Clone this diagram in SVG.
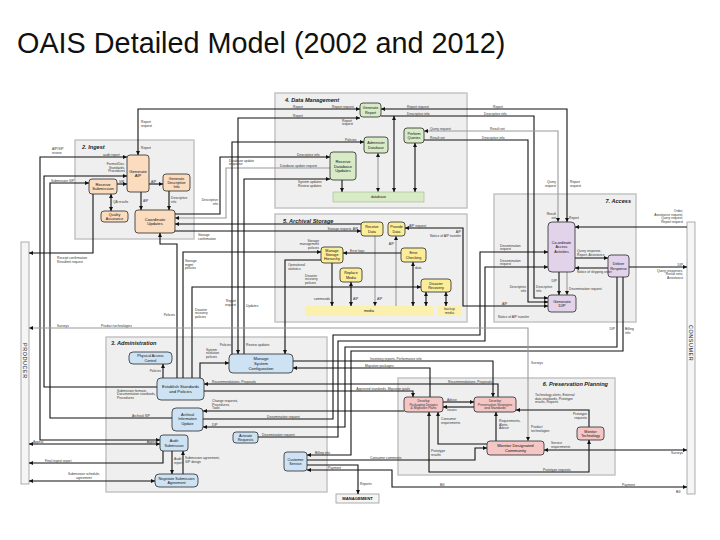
<svg xmlns="http://www.w3.org/2000/svg" width="720" height="540" viewBox="0 0 720 540">
<style>
.box{fill:#efefef;stroke:#c4c4c4;stroke-width:1.5}
.n{stroke:#2a2a2a;stroke-width:0.8}
.ing{fill:#fbdcbf}.dm{fill:#d8ebc6}.as{fill:#fcee98}.ac{fill:#e2d2ea}.ad{fill:#cde2f3}.pp{fill:#f5c6c6}
.bar{fill:#fbf0ad;stroke:none}
.ext{fill:#f5f5f5;stroke:#9a9a9a;stroke-width:0.8}
.c{fill:none;stroke:#111;stroke-width:1.1}
.g{fill:none;stroke:#9a9a9a;stroke-width:1.1}
text{font-family:"Liberation Sans",Arial,sans-serif}
.t{font-size:4.2px;text-anchor:middle;fill:#111}
.ts{font-size:3.7px;text-anchor:middle;fill:#111}
.s{font-size:3.3px;fill:#333}
.e{text-anchor:end}
.h{font-size:5.6px;font-weight:bold;font-style:italic;fill:#222}
.x{font-size:5.4px;fill:#222;letter-spacing:0.6px}
</style>
<defs>
<marker id="a" viewBox="0 0 8 8" refX="8" refY="4" markerWidth="4" markerHeight="4" markerUnits="userSpaceOnUse" orient="auto-start-reverse"><path d="M0,0L8,4L0,8z" fill="#111"/></marker>
</defs>
<rect width="720" height="540" fill="#fff"/>
<text x="17" y="53" font-size="28.8" fill="#111">OAIS Detailed Model (2002 and 2012)</text>

<g id="panels">
<rect class="box" x="75" y="140" width="119" height="99"/>
<rect class="box" x="275" y="93" width="192" height="115"/>
<rect class="box" x="275" y="214" width="192" height="108"/>
<rect class="box" x="494" y="194" width="142" height="128"/>
<rect class="box" x="106" y="337" width="221" height="155"/>
<rect class="box" x="398" y="378" width="217" height="97"/>
<text class="h" x="82" y="149">2. Ingest</text>
<text class="h" x="285" y="102">4. Data Management</text>
<text class="h" x="283" y="223">5. Archival Storage</text>
<text class="h e" x="631" y="203">7. Access</text>
<text class="h" x="111" y="345">3. Administration</text>
<text class="h e" x="608" y="386">6. Preservation Planning</text>
</g>

<g id="producer"><rect class="ext" x="21" y="242" width="8" height="242"/><text class="x" transform="translate(23,343) rotate(90)">PRODUCER</text></g>
<g id="consumer"><rect class="ext" x="687" y="222" width="8" height="272"/><text class="x" transform="translate(689,325) rotate(90)">CONSUMER</text></g>
<g id="management"><rect class="ext" x="336" y="494" width="43" height="9"/><text class="t" x="357.5" y="500.3" font-weight="bold">MANAGEMENT</text></g>

<g id="connectors" marker-end="url(#a)">
<polyline class="c" points="117,184 127,184"/>
<polyline class="c" points="149,184 163,184"/>
<polyline class="c" points="111,194 111,211" marker-start="url(#a)"/>
<polyline class="c" points="141,192 141,210"/>
<polyline class="c" points="169,191 169,210"/>
<polyline class="c" points="93,194 93,253 29,253"/>
<polyline class="c" points="172,418 50,418 50,183 89,183"/>
<polyline class="c" points="160,440 40,440 40,157 127,157" marker-start="url(#a)"/>
<polyline class="c" points="157,387 44,387 44,176 127,176"/>
<polyline class="c" points="138,155 138,109 360,109" marker-start="url(#a)"/>
<polyline class="c" points="175,214 220,214 220,157 330,157"/>
<polyline class="g" points="330,168 226,168 226,218 175,218"/>
<polyline class="c" points="361,224 175,224"/>
<polyline class="c" points="175,231 361,231"/>
<polyline class="c" points="177,378 177,244 160,244 160,233"/>
<polyline class="c" points="238,354 238,118 360,118" marker-start="url(#a)"/>
<polyline class="c" points="232,354 232,142 364,142"/>
<polyline class="c" points="244,354 244,179 330,179"/>
<polyline class="g" points="378,153 378,192" marker-start="url(#a)"/>
<polyline class="c" points="342,180 342,192"/>
<polyline class="c" points="415,143 415,192" marker-start="url(#a)"/>
<polyline class="c" points="394,116 394,192" marker-start="url(#a)"/>
<polyline class="c" points="381,109 567,109 567,222" marker-start="url(#a)"/>
<polyline class="c" points="381,116 534,116 534,298 548,298"/>
<polyline class="g" points="424,131 558,131 558,222" marker-start="url(#a)"/>
<polyline class="c" points="424,140 528,140 528,302 548,302"/>
<polyline class="g" points="375,236 375,306"/>
<polyline class="g" points="396,306 396,236"/>
<polyline class="c" points="401,253 343,253"/>
<polyline class="c" points="332,263 332,306"/>
<polyline class="c" points="351,282 351,306" marker-start="url(#a)"/>
<polyline class="c" points="413,262 413,306" marker-start="url(#a)"/>
<polyline class="c" points="426,292 426,306" marker-start="url(#a)"/>
<polyline class="c" points="446,292 446,306" marker-start="url(#a)"/>
<polyline class="c" points="321,260 285,260 285,354"/>
<polyline class="c" points="183,378 183,252 321,252"/>
<polyline class="c" points="192,378 192,287 421,287"/>
<polyline class="c" points="405,228 463,228 463,306 548,306" marker-start="url(#a)"/>
<polyline class="c" points="687,227 575,227"/>
<polyline class="c" points="575,258 608,258"/>
<polyline class="c" points="608,268 575,268"/>
<polyline class="c" points="629,267 687,267"/>
<polyline class="c" points="559,272 559,295"/>
<polyline class="g" points="567,272 567,295"/>
<polyline class="c" points="203,419 333,419 333,335 480,335 480,252 548,252"/>
<polyline class="c" points="258,437 338,437 338,341 485,341 485,267 548,267"/>
<polyline class="c" points="617,277 617,347 345,347 345,427 203,427"/>
<polyline class="c" points="623,277 623,351 351,351 351,455 307,455"/>
<polyline class="c" points="163,378 163,364"/>
<polyline class="c" points="200,378 200,363 229,363"/>
<polyline class="c" points="498,397 498,384 204,384"/>
<polyline class="c" points="204,391 413,391 413,397"/>
<polyline class="c" points="404,411 203,411"/>
<polyline class="c" points="160,444 29,444" marker-start="url(#a)"/>
<polyline class="c" points="163,451 163,463 29,463"/>
<polyline class="c" points="155,481 29,481" marker-start="url(#a)"/>
<polyline class="c" points="172,451 172,474"/>
<polyline class="c" points="183,474 183,451"/>
<polyline class="c" points="293,361 493,361 493,397"/>
<polyline class="c" points="430,397 430,368 293,368"/>
<polyline class="c" points="307,460 475,460 475,448 487,448"/>
<polyline class="c" points="307,465 358,465 358,494"/>
<polyline class="c" points="307,470 392,470 392,487 687,487" marker-start="url(#a)"/>
<polyline class="g" points="29,328 528,328 528,441" marker-start="url(#a)"/>
<polyline class="c" points="443,402 474,402"/>
<polyline class="c" points="474,407 443,407"/>
<polyline class="c" points="589,427 589,410 516,410"/>
<polyline class="c" points="496,441 496,412"/>
<polyline class="c" points="487,444 438,444 438,412"/>
<polyline class="c" points="589,440 589,472 429,472 429,412" marker-start="url(#a)"/>
<polyline class="c" points="544,450 687,450" marker-start="url(#a)"/>
</g>

<g id="ingest-nodes">
<g id="receive-submission"><rect class="n ing" x="89" y="179" width="28" height="15" rx="3"/><text class="t" x="103" y="185.7">Receive<tspan x="103" y="190.3">Submission</tspan></text></g>
<g id="generate-aip"><rect class="n ing" x="127" y="155" width="22" height="37" rx="3"/><text class="t" x="138" y="172.7">Generate<tspan x="138" y="177.3">AIP</tspan></text></g>
<g id="generate-descriptive-info"><rect class="n ing" x="163" y="174" width="27" height="17" rx="3"/><text class="ts" x="176.5" y="179.6">Generate<tspan x="176.5" y="183.8">Descriptive</tspan><tspan x="176.5" y="188">Info</tspan></text></g>
<g id="quality-assurance"><rect class="n ing" x="101" y="211" width="27" height="11" rx="3"/><text class="ts" x="114.5" y="215.8">Quality<tspan x="114.5" y="220">Assurance</tspan></text></g>
<g id="coordinate-updates"><rect class="n ing" x="135" y="210" width="40" height="23" rx="3"/><text class="t" x="155" y="220.7">Coordinate<tspan x="155" y="225.3">Updates</tspan></text></g>
</g>

<g id="dm-nodes">
<g id="generate-report"><rect class="n dm" x="360" y="103" width="21" height="14" rx="3"/><text class="ts" x="370.5" y="109.3">Generate<tspan x="370.5" y="113.5">Report</tspan></text></g>
<g id="perform-queries"><rect class="n dm" x="404" y="128" width="20" height="15" rx="3"/><text class="ts" x="414" y="134.8">Perform<tspan x="414" y="139">Queries</tspan></text></g>
<g id="administer-database"><rect class="n dm" x="364" y="137" width="24" height="16" rx="3"/><text class="ts" x="376" y="144.3">Administer<tspan x="376" y="148.5">Database</tspan></text></g>
<g id="receive-database-updates"><rect class="n dm" x="330" y="152" width="26" height="28" rx="3"/><text class="t" x="343" y="162.9">Receive<tspan x="343" y="167.5">Database</tspan><tspan x="343" y="172.1">Updates</tspan></text></g>
<g id="database"><rect class="dm" x="333" y="192" width="91" height="10" stroke="#8fb07a" stroke-width="0.5"/><text class="ts" x="378.5" y="198.4">database</text></g>
</g>

<g id="as-nodes">
<g id="receive-data"><rect class="n as" x="361" y="222" width="22" height="14" rx="3"/><text class="ts" x="372" y="228.3">Receive<tspan x="372" y="232.5">Data</tspan></text></g>
<g id="provide-data"><rect class="n as" x="388" y="222" width="17" height="14" rx="3"/><text class="ts" x="396.5" y="228.3">Provide<tspan x="396.5" y="232.5">Data</tspan></text></g>
<g id="manage-storage-hierarchy"><rect class="n as" x="321" y="247" width="22" height="16" rx="3"/><text class="ts" x="332" y="251.6">Manage<tspan x="332" y="255.8">Storage</tspan><tspan x="332" y="260">Hierarchy</tspan></text></g>
<g id="error-checking"><rect class="n as" x="401" y="248" width="25" height="14" rx="3"/><text class="ts" x="413.5" y="254.3">Error<tspan x="413.5" y="258.5">Checking</tspan></text></g>
<g id="replace-media"><rect class="n as" x="340" y="268" width="22" height="14" rx="3"/><text class="ts" x="351" y="274.3">Replace<tspan x="351" y="278.5">Media</tspan></text></g>
<g id="disaster-recovery"><rect class="n as" x="421" y="279" width="30" height="13" rx="3"/><text class="ts" x="436" y="284.8">Disaster<tspan x="436" y="289">Recovery</tspan></text></g>
<g id="media"><rect class="bar" x="305" y="306" width="128" height="10"/><text class="ts" x="369" y="312.4">media</text></g>
<g id="backup-media"><rect class="bar" x="438" y="306" width="23" height="10"/><text class="s" x="449.5" y="310.3" text-anchor="middle">backup<tspan x="449.5" y="314">media</tspan></text></g>
</g>

<g id="access-nodes">
<g id="coordinate-access-activities"><rect class="n ac" x="548" y="222" width="27" height="50" rx="4"/><text class="ts" x="561.5" y="244">Co-ordinate<tspan x="561.5" y="248.4">Access</tspan><tspan x="561.5" y="252.8">Activities</tspan></text></g>
<g id="deliver-response"><rect class="n ac" x="608" y="255" width="21" height="22" rx="3"/><text class="ts" x="618.5" y="265.3">Deliver<tspan x="618.5" y="269.7">Response</tspan></text></g>
<g id="generate-dip"><rect class="n ac" x="548" y="295" width="28" height="17" rx="3"/><text class="t" x="562" y="302.7">Generate<tspan x="562" y="307.3">DIP</tspan></text></g>
</g>

<g id="admin-nodes">
<g id="physical-access-control"><rect class="n ad" x="129" y="352" width="43" height="12" rx="4"/><text class="ts" x="150.5" y="357.3">Physical Access<tspan x="150.5" y="361.6">Control</tspan></text></g>
<g id="manage-system-configuration"><rect class="n ad" x="229" y="354" width="64" height="19" rx="4"/><text class="t" x="261" y="360.4">Manage<tspan x="261" y="365">System</tspan><tspan x="261" y="369.6">Configuration</tspan></text></g>
<g id="establish-standards"><rect class="n ad" x="157" y="378" width="47" height="22" rx="4"/><text class="t" x="180.5" y="388.2">Establish Standards<tspan x="180.5" y="392.8">and Policies</tspan></text></g>
<g id="archival-information-update"><rect class="n ad" x="172" y="408" width="31" height="23" rx="4"/><text class="ts" x="187.5" y="416">Archival<tspan x="187.5" y="420.4">Information</tspan><tspan x="187.5" y="424.8">Update</tspan></text></g>
<g id="activate-requests"><rect class="n ad" x="233" y="432" width="25" height="11" rx="3"/><text class="ts" x="245.5" y="436.8">Activate<tspan x="245.5" y="441">Requests</tspan></text></g>
<g id="audit-submission"><rect class="n ad" x="160" y="435" width="28" height="16" rx="3"/><text class="ts" x="174" y="442.3">Audit<tspan x="174" y="446.6">Submission</tspan></text></g>
<g id="negotiate-submission-agreement"><rect class="n ad" x="155" y="474" width="43" height="13" rx="4"/><text class="ts" x="176.5" y="479.8">Negotiate Submission<tspan x="176.5" y="484.1">Agreement</tspan></text></g>
<g id="customer-service"><rect class="n ad" x="284" y="452" width="23" height="19" rx="3"/><text class="ts" x="295.5" y="460.8">Customer<tspan x="295.5" y="465.1">Service</tspan></text></g>
</g>

<g id="pp-nodes">
<g id="develop-packaging"><rect class="n pp" x="404" y="397" width="39" height="15" rx="3"/><text class="s" x="423.5" y="401.6" text-anchor="middle">Develop<tspan x="423.5" y="405.5">Packaging Designs</tspan><tspan x="423.5" y="409.4">&amp; Migration Plans</tspan></text></g>
<g id="develop-preservation"><rect class="n pp" x="474" y="397" width="42" height="15" rx="3"/><text class="s" x="495" y="401.6" text-anchor="middle">Develop<tspan x="495" y="405.5">Preservation Strategies</tspan><tspan x="495" y="409.4">and Standards</tspan></text></g>
<g id="monitor-designated-community"><rect class="n pp" x="487" y="441" width="57" height="14" rx="3"/><text class="t" x="515.5" y="447.2">Monitor Designated<tspan x="515.5" y="451.8">Community</tspan></text></g>
<g id="monitor-technology"><rect class="n pp" x="577" y="427" width="27" height="13" rx="3"/><text class="ts" x="590.5" y="432.8">Monitor<tspan x="590.5" y="437.1">Technology</tspan></text></g>
</g>

<g id="labels">
<text class="s" x="119" y="182.5">SIP</text>
<text class="s" x="151" y="182.5">AIP</text>
<text class="s" x="113" y="203">QA results</text>
<text class="s" x="143" y="202">AIP</text>
<text class="s" x="171" y="199">Descriptive<tspan x="171" y="202.5">info</tspan></text>
<text class="s" x="57" y="258.5">Receipt confirmation<tspan x="57" y="262.5">Resubmit request</tspan></text>
<text class="s" x="51" y="181.5">Submission SIP</text>
<text class="s" x="132" y="416.5">Archival SIP</text>
<text class="s" x="103" y="155.5">audit report</text>
<text class="s" x="52" y="150">AIP/SIP<tspan x="52" y="154">review</tspan></text>
<text class="s e" x="125" y="165">Format/Doc.<tspan x="125" y="168.5">Standards,</tspan><tspan x="125" y="172">Procedures</tspan></text>
<text class="s" x="117" y="391.5">Submission formats,<tspan x="117" y="395">Documentation standards,</tspan><tspan x="117" y="398.5">Procedures</tspan></text>
<text class="s" x="141" y="123">Report<tspan x="141" y="126.5">request</tspan></text>
<text class="s" x="141" y="149">Report</text>
<text class="s" x="293" y="107.5">Report</text>
<text class="s" x="332" y="107.5">Report request</text>
<text class="s" x="293" y="116.5">Report</text>
<text class="s" x="342" y="121.5">Report<tspan x="342" y="125">request</tspan></text>
<text class="s" x="345" y="140.5">Policies</text>
<text class="s" x="297" y="155.5">Descriptive info</text>
<text class="s" x="229" y="161.5">Database update<tspan x="229" y="165">response</tspan></text>
<text class="s" x="280" y="166.5">Database update request</text>
<text class="s" x="298" y="183">System updates<tspan x="298" y="186.5">Review updates</tspan></text>
<text class="s e" x="218" y="201">Descriptive<tspan x="218" y="204.5">info</tspan></text>
<text class="s" x="198" y="236">Storage<tspan x="198" y="239.5">confirmation</tspan></text>
<text class="s e" x="358" y="229.5">Storage request, AIP</text>
<text class="s e" x="175" y="316">Policies</text>
<text class="s" x="185" y="262">Storage<tspan x="185" y="265.5">mgmt</tspan><tspan x="185" y="269">policies</tspan></text>
<text class="s e" x="319" y="241.5">Storage<tspan x="319" y="245">management</tspan><tspan x="319" y="248.5">policies</tspan></text>
<text class="s" x="195" y="310.5">Disaster<tspan x="195" y="314">recovery</tspan><tspan x="195" y="317.5">policies</tspan></text>
<text class="s" x="305" y="276.5">Disaster<tspan x="305" y="280">recovery</tspan><tspan x="305" y="283.5">policies</tspan></text>
<text class="s" x="288" y="266">Operational<tspan x="288" y="269.5">statistics</tspan></text>
<text class="s" x="350" y="251.5">Error logs</text>
<text class="s e" x="330" y="300">commands</text>
<text class="s" x="353" y="300">AIP</text>
<text class="s" x="377" y="300">AIP</text>
<text class="s e" x="394" y="245">AIP</text>
<text class="s" x="415" y="269">data</text>
<text class="s" x="409" y="226.5">AIP request</text>
<text class="s e" x="461" y="233">AIP</text>
<text class="s e" x="461" y="236.5">Notice of AIP transfer</text>
<text class="s" x="498" y="317.5">Notice of AIP transfer</text>
<text class="s" x="502" y="304.5">AIP</text>
<text class="s" x="570" y="183">Report<tspan x="570" y="186.5">request</tspan></text>
<text class="s e" x="556" y="183">Query<tspan x="556" y="186.5">request</tspan></text>
<text class="s" x="569" y="218.5">Report</text>
<text class="s e" x="556" y="215">Result<tspan x="556" y="218.5">set</tspan></text>
<text class="s e" x="683" y="212">Order,<tspan x="683" y="215.5">Assistance request,</tspan><tspan x="683" y="219">Query request,</tspan><tspan x="683" y="222.5">Report request</tspan></text>
<text class="s" x="577" y="252">Query response,<tspan x="577" y="255.7">Report, Assistance</tspan></text>
<text class="s" x="577" y="272.5">Notice of shipping order</text>
<text class="s e" x="683" y="265.5">DIP</text>
<text class="s e" x="683" y="271.5">Query responses,<tspan x="683" y="275">Result sets,</tspan><tspan x="683" y="278.5">Assistance</tspan></text>
<text class="s e" x="557" y="282">DIP</text>
<text class="s" x="569" y="290">Dissemination request</text>
<text class="s e" x="526" y="288">Descriptive<tspan x="526" y="291.5">info</tspan></text>
<text class="s" x="536" y="288">Descriptive<tspan x="536" y="291.5">info</tspan></text>
<text class="s" x="500" y="246.5">Dissemination<tspan x="500" y="250">request</tspan></text>
<text class="s" x="500" y="261.5">Dissemination<tspan x="500" y="265">request</tspan></text>
<text class="s" x="407" y="107.5">Report request</text>
<text class="s" x="407" y="114.5">Descriptive info</text>
<text class="s" x="493" y="107.5">Report</text>
<text class="s" x="484" y="114.5">Descriptive info</text>
<text class="s" x="430" y="129.5">Query request</text>
<text class="s" x="490" y="129.5">Result set</text>
<text class="s" x="430" y="138.5">Result set</text>
<text class="s" x="482" y="138.5">Descriptive info</text>
<text class="s" x="267" y="417.5">Dissemination request</text>
<text class="s" x="262" y="435.5">Dissemination request</text>
<text class="s e" x="615" y="330">DIP</text>
<text class="s" x="625" y="330">Billing<tspan x="625" y="333.5">info</tspan></text>
<text class="s e" x="161" y="372">Policies</text>
<text class="s" x="206" y="350.5">System<tspan x="206" y="354">evolution</tspan><tspan x="206" y="357.5">policies</tspan></text>
<text class="s e" x="236" y="302">Report<tspan x="236" y="305.5">request</tspan></text>
<text class="s" x="246" y="307">Updates</text>
<text class="s e" x="231" y="346">Policies</text>
<text class="s" x="246" y="346">Review updates</text>
<text class="s" x="212" y="382.5">Recommendations, Proposals</text>
<text class="s" x="448" y="382.5">Recommendations, Proposals</text>
<text class="s e" x="410" y="389.5">Approved standards, Migration goals</text>
<text class="s" x="212" y="402">Change requests,<tspan x="212" y="405.5">Procedures,</tspan><tspan x="212" y="409">Tools</tspan></text>
<text class="s" x="212" y="425.5">DIP</text>
<text class="s" x="370" y="359.5">Inventory reports, Performance info</text>
<text class="s" x="365" y="366.5">Migration packages</text>
<text class="s" x="33" y="442.5">Appeal</text>
<text class="s e" x="157" y="442.5">Appeal</text>
<text class="s" x="45" y="461.5">Final ingest report</text>
<text class="s" x="84" y="474.5" text-anchor="middle">Submission schedule,<tspan x="84" y="478.5">agreement</tspan></text>
<text class="s" x="174" y="460">Audit<tspan x="174" y="463.5">report</tspan></text>
<text class="s" x="185" y="459">Submission agreement,<tspan x="185" y="462.5">SIP design</tspan></text>
<text class="s" x="315" y="453.5">Billing info</text>
<text class="s" x="370" y="458.5">Consumer comments</text>
<text class="s" x="360" y="485">Reports</text>
<text class="s" x="328" y="468.5">Payment</text>
<text class="s" x="440" y="485.5">Bill</text>
<text class="s" x="622" y="485.5">Payment</text>
<text class="s" x="676" y="492.5">Bill</text>
<text class="s" x="57" y="326.5">Surveys</text>
<text class="s" x="101" y="326.5">Product technologies</text>
<text class="s" x="531" y="364">Surveys</text>
<text class="s" x="531" y="428">Product<tspan x="531" y="431.5">technologies</tspan></text>
<text class="s" x="447" y="400.5">Advice</text>
<text class="s" x="447" y="410.5">Issues</text>
<text class="s" x="535" y="396">Technology alerts, External<tspan x="535" y="399.5">data standards, Prototype</tspan><tspan x="535" y="403">results, Reports</tspan></text>
<text class="s e" x="587" y="415">Prototype<tspan x="587" y="418.5">requests</tspan></text>
<text class="s" x="499" y="422">Requirements,<tspan x="499" y="425.5">Alerts,</tspan><tspan x="499" y="429">Advice</tspan></text>
<text class="s" x="441" y="420">Consumer<tspan x="441" y="423.5">requirements</tspan></text>
<text class="s" x="543" y="470.5">Prototype requests</text>
<text class="s" x="431" y="452">Prototype<tspan x="431" y="455.5">results</tspan></text>
<text class="s" x="551" y="444">Service<tspan x="551" y="447.5">requirements</tspan></text>
<text class="s e" x="683" y="454">Surveys</text>
</g>
</svg>
